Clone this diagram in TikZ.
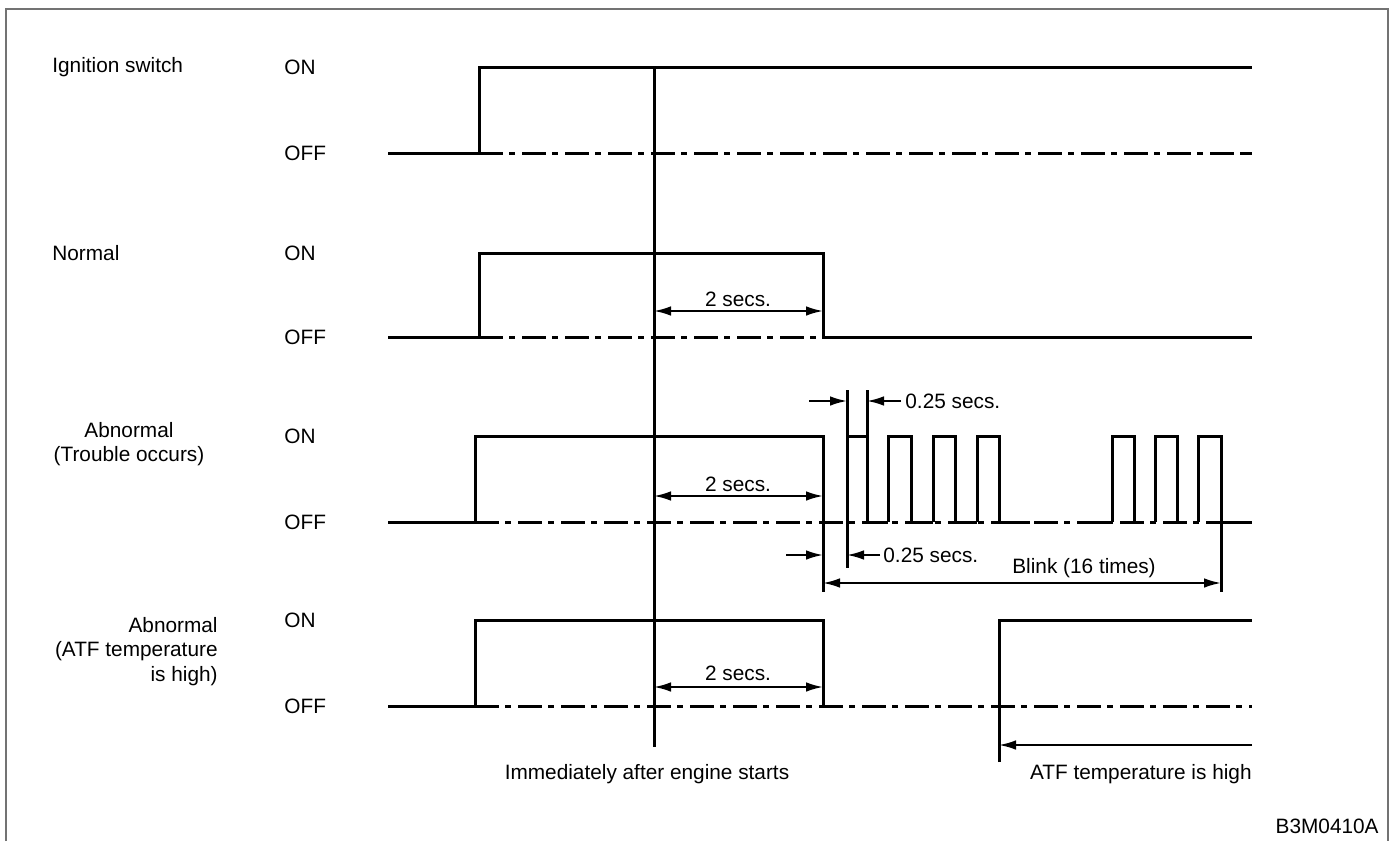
\documentclass[tikz,border=0pt]{standalone}
\usepackage{fontspec}
\setmainfont{Liberation Sans}
\usetikzlibrary{arrows.meta,calc}
\definecolor{FrameClr}{rgb}{0.45,0.45,0.45}

\begin{document}
\begin{tikzpicture}[x=0.5pt,y=-0.5pt,
  sig/.style={line width=1.5pt,line join=miter},
  ref/.style={line width=1.5pt,dash pattern=on 12pt off 3pt on 3pt off 3.5pt},
  dim/.style={line width=1pt,-{Latex[length=8.5pt,width=4.8pt]}},
  ddim/.style={line width=1pt,{Latex[length=8.5pt,width=4.8pt]}-{Latex[length=8.5pt,width=4.8pt]}},
  lbl/.style={font=\fontsize{10.4}{12.2}\selectfont,inner sep=0pt}]
\useasboundingbox (0,0) rectangle (1391,841);
\draw[FrameClr,line width=0.8pt] (6,841) -- (6,9) -- (1388,9) -- (1388,841);

% time marks
\coordinate (xS) at (388,0);
\coordinate (xI) at (479,0);
\coordinate (xR) at (475,0);
\coordinate (xE) at (654,0);
\coordinate (xT) at (823,0);
\coordinate (xB) at (847,0);
\coordinate (xC) at (867,0);
\coordinate (xH) at (999,0);
\coordinate (xK) at (1221,0);
\coordinate (xF) at (1252,0);
% levels
\coordinate (yI1) at (0,67);  \coordinate (yI0) at (0,153);
\coordinate (yN1) at (0,253); \coordinate (yN0) at (0,337);
\coordinate (yT1) at (0,436); \coordinate (yT0) at (0,522);
\coordinate (yA1) at (0,620); \coordinate (yA0) at (0,706);

% labels
\node[lbl,anchor=west] (ign) at (52,67) {Ignition switch};
\node[lbl,anchor=west] (nrm) at (52,253) {Normal};
\node[lbl,align=center] (trb) at (129,444) {Abnormal\\(Trouble occurs)};
\node[lbl,align=right,anchor=north east] (atf) at (218,617) {Abnormal\hspace{25.5pt}\\(ATF temperature\\is high)};
\foreach \lv/\nm in {67/ignon,253/nrmon,436/trbon,620/atfon}
  \node[lbl,anchor=west] (\nm) at (284,\lv) {ON};
\foreach \lv/\nm in {153/ignoff,337/nrmoff,522/trboff,706/atfoff}
  \node[lbl,anchor=west] (\nm) at (284,\lv) {OFF};

% ignition switch
\draw[sig] (xS |- yI0) -- (xI |- yI0) -- (xI |- yI1) -- (xF |- yI1);
\draw[ref] (xI |- yI0) -- (xF |- yI0);
\draw[sig] (1240,153) -- (xF |- yI0);

% engine start
\draw[sig] (xE |- yI1) -- (654,747);
\node[lbl] (eng) at (647,774) {Immediately after engine starts};

% normal
\draw[sig] (xS |- yN0) -- (xI |- yN0) -- (xI |- yN1) -- (xT |- yN1) -- (xT |- yN0) -- (xF |- yN0);
\draw[ref] (xI |- yN0) -- (xT |- yN0);
\draw[ddim] (654,311) -- (823,311);
\node[lbl] (n2) at (738,299) {2 secs.};

% abnormal, trouble occurs
\draw[sig] (xS |- yT0) -- (xR |- yT0) -- (xR |- yT1) -- (xT |- yT1) -- (823,592);
\draw[ref] (xR |- yT0) -- (xF |- yT0);
\draw[ddim] (654,496) -- (823,496);
\node[lbl] (t2) at (738,484) {2 secs.};
\draw[sig] (847,390) -- (847,568);
\draw[sig] (xB |- yT1) -- (xC |- yT1);
\draw[sig] (867,390) -- (xC |- yT0) -- (888,522);
\foreach \a/\b in {888/911,933/955,977/999}
  \draw[sig] (\a,522) -- (\a,436) -- (\b,436) -- (\b,522);
\draw[sig] (911,522) -- (933,522) (955,522) -- (977,522) (999,522) -- (1030,522);
\draw[sig] (1090,522) -- (1112,522);
\foreach \a/\b in {1112/1134,1155/1177}
  \draw[sig] (\a,522) -- (\a,436) -- (\b,436) -- (\b,522);
\draw[sig] (1198,522) -- (1198,436) -- (1221,436) -- (1221,592);
\draw[sig] (xK |- yT0) -- (xF |- yT0);

\draw[dim] (809,401) -- (847,401);
\draw[dim] (901,401) -- (867,401);
\node[lbl,anchor=west] (q1) at (905,401) {0.25 secs.};
\draw[dim] (786,555) -- (823,555);
\draw[dim] (880,555) -- (847,555);
\node[lbl,anchor=west] (q2) at (883,555) {0.25 secs.};
\draw[ddim] (823,583) -- (1221,583);
\node[lbl] (blk) at (1084,568) {Blink (16 times)};

% abnormal, ATF temperature is high
\draw[sig] (xS |- yA0) -- (xR |- yA0) -- (xR |- yA1) -- (xT |- yA1) -- (xT |- yA0);
\draw[ref] (xR |- yA0) -- (xF |- yA0);
\draw[ddim] (654,687) -- (823,687);
\node[lbl] (a2) at (738,673) {2 secs.};
\draw[sig] (999,762) -- (xH |- yA1) -- (xF |- yA1);
\draw[dim] (1252,745) -- (999,745);
\node[lbl,anchor=east] (hot) at (1252,774) {ATF temperature is high};

\node[lbl,anchor=east] (code) at (1379,826) {B3M0410A};
\end{tikzpicture}
\end{document}
